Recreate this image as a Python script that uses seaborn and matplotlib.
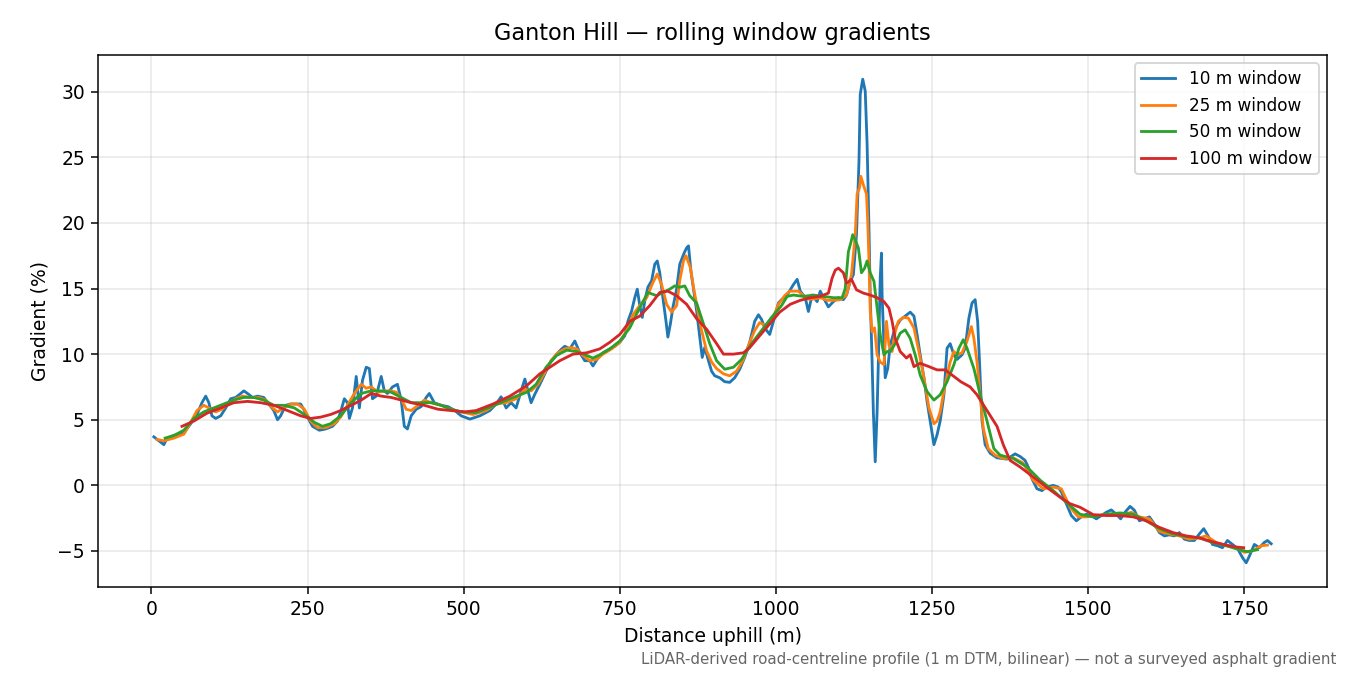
import pandas as pd
import numpy as np
import seaborn as sns
import matplotlib.pyplot as plt

# values (distance m, gradient %)
dist_10 = [4, 20, 25, 36, 52, 63, 73, 81, 87, 92, 97, 103, 111, 119, 127, 135, 143, 148, 154, 162,
           170, 180, 188, 196, 202, 207, 215, 223, 231, 239, 245, 250, 258, 269, 279, 290, 298, 303, 309, 314,
           317, 322, 328, 333, 338, 344, 349, 354, 360, 368, 373, 378, 386, 394, 400, 405, 410, 416, 424, 432,
           440, 445, 453, 464, 475, 486, 496, 510, 526, 542, 552, 560, 568, 576, 584, 592, 598, 603, 608, 614,
           622, 632, 640, 649, 657, 662, 670, 678, 686, 694, 702, 707, 715, 723, 734, 742, 750, 758, 763, 769,
           774, 778, 782, 786, 790, 795, 801, 806, 810, 814, 819, 824, 827, 831, 835, 841, 846, 853, 857, 860,
           864, 868, 873, 878, 882, 886, 892, 897, 902, 910, 918, 926, 934, 942, 950, 958, 966, 972, 977, 982,
           990, 996, 1004, 1010, 1018, 1028, 1034, 1039, 1047, 1052, 1058, 1066, 1071, 1076, 1084, 1092, 1100, 1108, 1113, 1119,
           1124, 1129, 1133, 1135, 1139, 1143, 1146, 1149, 1151, 1154, 1156, 1159, 1162, 1164, 1167, 1169, 1170, 1173, 1175, 1179,
           1183, 1189, 1194, 1199, 1207, 1215, 1221, 1226, 1231, 1237, 1242, 1247, 1253, 1258, 1263, 1269, 1274, 1279, 1285, 1290,
           1298, 1303, 1309, 1314, 1319, 1323, 1326, 1330, 1335, 1343, 1354, 1370, 1383, 1391, 1399, 1404, 1410, 1418, 1426, 1433,
           1444, 1452, 1457, 1465, 1473, 1481, 1489, 1497, 1505, 1513, 1521, 1529, 1537, 1545, 1552, 1559, 1567, 1574, 1582, 1590,
           1598, 1606, 1614, 1622, 1630, 1638, 1646, 1654, 1662, 1670, 1678, 1685, 1692, 1699, 1707, 1715, 1723, 1731, 1739, 1747,
           1753, 1758, 1766, 1774, 1782, 1787, 1793]
grad_10 = [3.7, 3.1, 3.6, 3.8, 4.0, 4.7, 5.4, 6.3, 6.8, 6.3, 5.3, 5.1, 5.3, 5.9, 6.6, 6.7, 7.0, 7.2, 7.0, 6.7,
           6.8, 6.7, 6.2, 5.7, 5.0, 5.3, 6.1, 6.2, 6.2, 6.2, 5.7, 5.2, 4.5, 4.2, 4.3, 4.5, 4.9, 5.6, 6.6, 6.3,
           5.1, 5.9, 8.3, 5.9, 8.0, 9.0, 8.9, 6.6, 6.8, 8.3, 7.2, 7.0, 7.5, 7.7, 6.5, 4.5, 4.3, 5.3, 5.8, 6.0,
           6.7, 7.0, 6.3, 6.1, 6.0, 5.7, 5.3, 5.05, 5.3, 5.7, 6.2, 6.75, 5.9, 6.3, 5.9, 7.2, 8.1, 7.2, 6.3, 6.95,
           7.7, 8.7, 9.5, 10.0, 10.4, 10.6, 10.4, 11.0, 10.1, 9.5, 9.5, 9.1, 9.7, 10.1, 10.4, 10.6, 10.9, 11.4, 12.5, 13.3,
           14.3, 14.95, 13.7, 12.8, 14.05, 15.1, 15.6, 16.85, 17.1, 16.2, 14.3, 12.5, 11.3, 12.3, 13.55, 14.95, 16.85, 17.7, 18.1, 18.25,
           16.3, 14.95, 13.3, 11.3, 9.75, 10.5, 9.5, 8.7, 8.35, 8.2, 7.9, 7.85, 8.2, 8.85, 9.75, 10.9, 12.5, 13.0, 12.65, 12.0,
           11.5, 12.5, 13.9, 14.2, 14.5, 15.3, 15.7, 14.8, 14.3, 13.25, 14.5, 14.0, 14.8, 14.3, 13.6, 14.0, 14.3, 14.15, 14.5, 15.55,
           16.05, 19.1, 24.7, 29.8, 30.95, 30.05, 26.0, 19.6, 14.5, 9.4, 5.6, 1.8, 5.6, 9.4, 15.8, 17.7, 14.5, 10.7, 8.2, 8.9,
           10.7, 11.7, 12.2, 12.6, 12.9, 13.2, 12.9, 11.5, 9.95, 8.2, 6.4, 4.9, 3.1, 3.85, 4.9, 6.9, 10.45, 10.8, 9.95, 9.6,
           9.95, 10.45, 12.75, 13.9, 14.15, 12.5, 9.4, 4.9, 3.1, 2.45, 2.1, 2.0, 2.4, 2.2, 1.9, 1.4, 0.5, -0.26, -0.4, -0.13,
           0.0, -0.13, -0.5, -1.4, -2.3, -2.7, -2.4, -2.2, -2.3, -2.55, -2.3, -2.05, -1.87, -2.2, -2.55, -2.05, -1.6, -1.9, -2.7, -2.55,
           -2.4, -2.95, -3.6, -3.85, -3.77, -3.85, -3.6, -4.1, -4.2, -4.2, -3.7, -3.3, -3.85, -4.5, -4.6, -4.75, -4.2, -4.5, -4.8, -5.5,
           -5.9, -5.4, -4.5, -4.75, -4.35, -4.2, -4.45]

dist_25 = [9, 20, 36, 52, 63, 73, 84, 92, 103, 113, 124, 135, 146, 159, 172, 183, 194, 202, 212, 223,
           234, 245, 255, 266, 279, 293, 303, 314, 325, 336, 344, 352, 363, 373, 384, 392, 400, 408, 416, 427,
           437, 448, 464, 480, 496, 515, 536, 552, 568, 584, 598, 608, 619, 630, 640, 651, 662, 672, 681, 691,
           702, 713, 723, 737, 750, 761, 771, 782, 793, 803, 810, 817, 825, 833, 841, 846, 852, 856, 863, 868,
           874, 881, 889, 897, 905, 916, 926, 937, 947, 958, 966, 974, 985, 993, 1004, 1014, 1022, 1036, 1050, 1060,
           1071, 1082, 1092, 1103, 1113, 1121, 1127, 1130, 1134, 1136, 1140, 1145, 1147, 1149, 1151, 1154, 1158, 1162, 1167, 1173,
           1177, 1181, 1186, 1191, 1196, 1204, 1212, 1221, 1229, 1237, 1245, 1253, 1258, 1263, 1271, 1279, 1285, 1290, 1298, 1306,
           1313, 1317, 1322, 1327, 1332, 1340, 1351, 1364, 1380, 1396, 1412, 1428, 1444, 1457, 1471, 1484, 1497, 1513, 1529, 1545,
           1559, 1569, 1582, 1598, 1614, 1630, 1646, 1662, 1678, 1689, 1705, 1721, 1737, 1750, 1763, 1777, 1787]
grad_25 = [3.5, 3.4, 3.6, 3.9, 4.8, 5.7, 6.1, 5.9, 5.6, 5.8, 6.3, 6.6, 6.8, 6.7, 6.7, 6.5, 5.9, 5.6, 5.9, 6.2,
           6.2, 5.8, 4.9, 4.4, 4.4, 4.7, 5.2, 6.1, 7.0, 7.7, 7.4, 7.5, 7.1, 7.2, 7.2, 7.1, 6.6, 5.8, 5.7, 6.1,
           6.5, 6.3, 6.1, 5.8, 5.6, 5.4, 5.7, 6.2, 6.3, 6.6, 7.3, 7.2, 7.7, 8.6, 9.5, 10.1, 10.4, 10.5, 10.4, 9.9,
           9.5, 9.6, 10.0, 10.4, 10.9, 11.8, 13.0, 13.7, 14.3, 15.45, 16.1, 15.3, 13.8, 13.2, 13.7, 15.6, 17.1, 17.5, 16.6, 15.1,
           13.55, 11.8, 10.25, 9.4, 8.9, 8.5, 8.35, 8.7, 9.5, 10.9, 11.8, 12.4, 12.15, 12.5, 13.8, 14.45, 14.8, 14.8, 14.2, 14.2,
           14.3, 14.1, 14.1, 14.15, 14.5, 16.05, 19.1, 22.2, 22.7, 23.55, 22.9, 22.2, 20.1, 17.1, 13.25, 11.7, 12.0, 9.95, 9.4, 9.2,
           12.5, 10.7, 10.2, 11.7, 12.5, 12.8, 12.75, 12.0, 10.2, 8.2, 5.9, 4.7, 4.9, 5.6, 7.7, 9.4, 10.2, 9.95, 10.1, 11.0,
           12.1, 11.2, 9.4, 6.9, 4.35, 2.8, 2.3, 2.05, 2.1, 1.7, 0.4, -0.26, -0.13, -0.26, -1.67, -2.4, -2.4, -2.3, -2.2, -2.2,
           -2.2, -2.05, -2.4, -2.55, -3.5, -3.7, -3.85, -4.1, -4.0, -3.85, -4.35, -4.6, -4.75, -5.1, -5.0, -4.6, -4.55]

dist_50 = [22, 36, 52, 68, 84, 100, 116, 132, 148, 164, 180, 196, 212, 229, 245, 261, 274, 287, 303, 320,
           336, 352, 368, 384, 400, 416, 432, 448, 464, 480, 496, 520, 547, 574, 601, 616, 632, 649, 665, 681,
           697, 707, 718, 734, 750, 766, 782, 795, 809, 819, 830, 838, 846, 854, 862, 873, 884, 894, 905, 918,
           932, 945, 961, 977, 993, 1009, 1018, 1028, 1044, 1060, 1076, 1092, 1106, 1111, 1116, 1120, 1123, 1127, 1132, 1137,
           1142, 1146, 1151, 1157, 1162, 1167, 1173, 1178, 1183, 1191, 1199, 1207, 1215, 1223, 1231, 1242, 1253, 1263, 1274, 1285,
           1293, 1300, 1306, 1317, 1327, 1338, 1349, 1359, 1380, 1402, 1423, 1444, 1465, 1487, 1508, 1529, 1551, 1572, 1593, 1614,
           1636, 1657, 1678, 1699, 1721, 1742, 1755, 1771]
grad_50 = [3.6, 3.8, 4.2, 5.1, 5.6, 5.9, 6.2, 6.5, 6.7, 6.7, 6.5, 6.1, 6.1, 5.9, 5.4, 4.8, 4.5, 4.7, 5.3, 6.3,
           7.0, 7.2, 7.2, 7.1, 6.7, 6.3, 6.3, 6.3, 6.1, 5.8, 5.6, 5.55, 6.05, 6.6, 7.1, 7.7, 9.0, 9.9, 10.3, 10.2,
           9.9, 9.7, 9.95, 10.4, 11.0, 12.0, 13.55, 14.7, 14.45, 14.7, 14.95, 15.2, 15.1, 15.2, 14.45, 13.9, 12.3, 10.8, 9.5, 8.85,
           9.0, 9.6, 10.8, 11.8, 12.8, 13.7, 14.4, 14.5, 14.4, 14.5, 14.4, 14.3, 14.3, 15.0, 17.8, 18.5, 19.1, 18.7, 18.1, 16.2,
           16.55, 17.1, 16.2, 15.55, 13.5, 11.5, 9.95, 10.2, 10.2, 10.8, 11.6, 11.85, 11.2, 9.95, 8.4, 7.15, 6.5, 6.9, 7.9, 9.2,
           10.45, 11.1, 10.45, 8.9, 6.9, 4.9, 2.8, 2.3, 2.05, 1.4, 0.4, -0.4, -1.3, -2.2, -2.4, -2.2, -2.1, -2.2, -2.7, -3.3,
           -3.7, -3.9, -4.0, -4.35, -4.6, -4.9, -5.05, -4.9]

dist_100 = [49, 68, 89, 111, 132, 154, 175, 196, 218, 239, 255, 271, 287, 303, 320, 336, 352, 368, 384, 400,
            416, 437, 459, 480, 502, 520, 547, 574, 601, 622, 638, 654, 675, 697, 718, 734, 750, 766, 782, 798,
            814, 827, 841, 857, 873, 889, 905, 916, 932, 948, 958, 974, 990, 1006, 1023, 1039, 1055, 1071, 1084, 1090,
            1095, 1100, 1108, 1113, 1121, 1129, 1140, 1151, 1162, 1173, 1181, 1186, 1191, 1199, 1209, 1215, 1221, 1231, 1245, 1258,
            1271, 1285, 1296, 1311, 1322, 1338, 1354, 1364, 1375, 1391, 1412, 1433, 1455, 1471, 1487, 1508, 1529, 1551, 1572, 1593,
            1614, 1636, 1657, 1678, 1699, 1721, 1737, 1749]
grad_100 = [4.5, 4.9, 5.5, 5.9, 6.3, 6.4, 6.3, 6.1, 5.7, 5.3, 5.1, 5.2, 5.4, 5.7, 6.1, 6.5, 7.0, 6.8, 6.7, 6.5,
            6.3, 6.1, 5.8, 5.7, 5.6, 5.7, 6.2, 6.8, 7.6, 8.5, 9.0, 9.5, 10.0, 10.1, 10.4, 10.9, 11.5, 12.5, 12.9, 13.7,
            14.7, 14.8, 14.45, 13.8, 12.7, 11.9, 10.8, 10.0, 10.0, 10.1, 10.5, 11.4, 12.3, 13.2, 13.8, 14.1, 14.3, 14.4, 14.65, 15.8,
            16.4, 16.55, 16.2, 15.4, 15.7, 14.9, 14.65, 14.5, 14.3, 14.0, 13.5, 12.5, 11.2, 10.2, 9.7, 9.95, 9.05, 9.3, 9.05, 8.8,
            8.8, 8.3, 7.9, 7.5, 6.9, 5.7, 4.5, 3.1, 1.9, 1.4, 0.64, -0.13, -0.9, -1.4, -1.67, -2.23, -2.3, -2.3, -2.4, -2.7,
            -3.2, -3.6, -3.85, -4.0, -4.3, -4.55, -4.7, -4.75]

labels = ["10 m window", "25 m window", "50 m window", "100 m window"]
colors = ["#1f77b4", "#ff7f0e", "#2ca02c", "#d62728"]


def build_frame():
    parts = []
    for lab, d, g in zip(labels, [dist_10, dist_25, dist_50, dist_100],
                         [grad_10, grad_25, grad_50, grad_100]):
        parts.append(pd.DataFrame({"dist": d, "grad": g, "series": lab}))
    return pd.concat(parts, ignore_index=True)


def main():
    df = build_frame()

    fig, ax = plt.subplots(figsize=(10, 5), dpi=135)
    fig.subplots_adjust(left=0.0726, right=0.983, top=0.9185, bottom=0.1304)

    sns.lineplot(data=df, x="dist", y="grad", hue="series", hue_order=labels,
                 palette=colors, estimator=None, sort=False, lw=1.5, ax=ax)

    ax.grid(True, alpha=0.3)
    ax.set_title("Ganton Hill \u2014 rolling window gradients", pad=8)
    ax.set_xlabel("Distance uphill (m)")
    ax.set_ylabel("Gradient (%)")
    ax.legend(loc="upper right", fontsize=9)

    fig.text(0.99, 0.012,
             "LiDAR-derived road-centreline profile (1 m DTM, bilinear) \u2014 not a surveyed asphalt gradient",
             ha="right", va="bottom", fontsize=8, color="#666666")

    fig.savefig("out.png", dpi=135)


if __name__ == "__main__":
    main()
